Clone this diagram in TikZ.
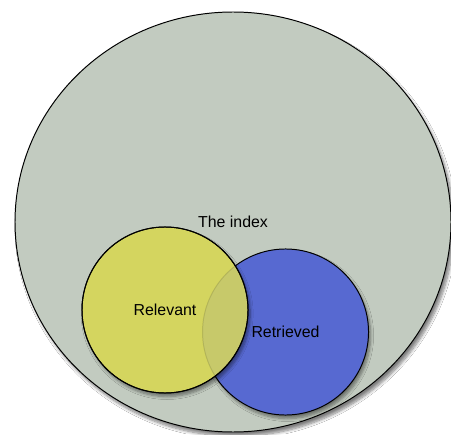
\documentclass[tikz,border=0pt]{standalone}
\usepackage{fontspec}
\setmainfont{Liberation Sans}
\usetikzlibrary{shadows.blur}
\definecolor{indexgrey}{HTML}{C2CBC0}
\definecolor{relyellow}{HTML}{D4D55F}
\definecolor{retblue}{HTML}{5769D1}
\tikzset{
  setcircle/.style={circle, draw=black, line width=0.7pt, minimum size=4.15cm,
    inner sep=0pt, font=\fontsize{11.3}{13}\selectfont,
    blur shadow={shadow blur steps=6, shadow xshift=1.5pt, shadow yshift=-2.5pt, shadow opacity=45}},
}
\begin{document}
\begin{tikzpicture}[x=0.025cm,y=0.025cm]
\useasboundingbox (0,0) rectangle (451,434);
% the whole collection
\fill[white] (0,0) rectangle (451,434);
\draw[fill=indexgrey, line width=0.7pt,
  blur shadow={shadow blur steps=8, shadow xshift=2pt, shadow yshift=-3pt, shadow opacity=50}]
  (233,212) ellipse [x radius=218, y radius=210];
\node[font=\fontsize{11.3}{13}\selectfont] (index) at (233,212) {The index};

\node[setcircle, fill=retblue] (retrieved) at (285.5,102) {};
\node[setcircle, fill=relyellow] (relevant) at (165,124) {};
% blue showing faintly through the yellow
\begin{scope}
  \clip (relevant.center) circle (83);
  \fill[retblue, opacity=0.1] (retrieved.center) circle (83);
  \draw[black, opacity=0.12, line width=0.7pt] (retrieved.center) circle (83);
\end{scope}
\draw[line width=0.7pt] (relevant.center) circle (83);
\node[font=\fontsize{11.3}{13}\selectfont] (reltext) at (relevant.center) {Relevant};
\node[font=\fontsize{11.3}{13}\selectfont] (rettext) at (retrieved.center) {Retrieved};
\end{tikzpicture}
\end{document}
